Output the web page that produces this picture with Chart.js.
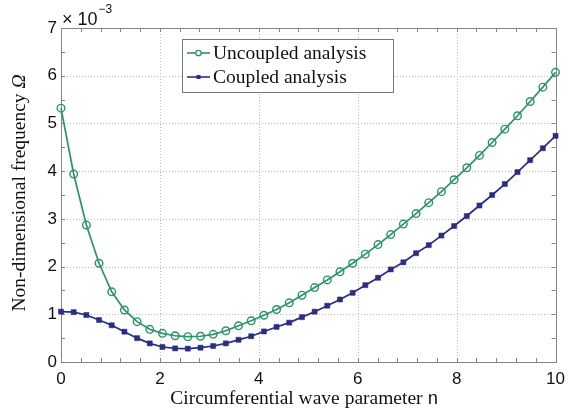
<!DOCTYPE html>
<html>
<head>
<meta charset="utf-8">
<script src="https://cdn.jsdelivr.net/npm/chart.js@4.4.0/dist/chart.umd.min.js"></script>
<style>
  html, body { margin: 0; padding: 0; background: #fff; }
  canvas { display: block; }
</style>
</head>
<body>
<canvas id="freqChart" width="572" height="413"></canvas>
<script>
// circumferential wave parameter n (40 samples over 0..10)
const waveParam = [0, 0.2564, 0.5128, 0.7692, 1.0256, 1.2821, 1.5385, 1.7949, 2.0513, 2.3077,
  2.5641, 2.8205, 3.0769, 3.3333, 3.5897, 3.8462, 4.1026, 4.3590, 4.6154, 4.8718,
  5.1282, 5.3846, 5.6410, 5.8974, 6.1538, 6.4103, 6.6667, 6.9231, 7.1795, 7.4359,
  7.6923, 7.9487, 8.2051, 8.4615, 8.7179, 8.9744, 9.2308, 9.4872, 9.7436, 10];

// non-dimensional frequency, in units of 1e-3
const uncoupled = [5.32, 3.94, 2.87, 2.07, 1.47, 1.09, 0.845, 0.685, 0.60, 0.55,
  0.53, 0.54, 0.58, 0.655, 0.76, 0.865, 0.98, 1.10, 1.24, 1.40,
  1.56, 1.72, 1.89, 2.07, 2.26, 2.46, 2.67, 2.89, 3.11, 3.34,
  3.57, 3.82, 4.07, 4.33, 4.60, 4.88, 5.16, 5.46, 5.76, 6.07];

const coupled = [1.055, 1.045, 0.985, 0.88, 0.77, 0.635, 0.50, 0.39, 0.315, 0.285,
  0.28, 0.30, 0.335, 0.39, 0.465, 0.54, 0.64, 0.735, 0.825, 0.94,
  1.055, 1.18, 1.31, 1.45, 1.61, 1.765, 1.94, 2.09, 2.28, 2.45,
  2.65, 2.85, 3.06, 3.28, 3.50, 3.73, 3.98, 4.23, 4.48, 4.74];

const seriesLabels = ['Uncoupled analysis', 'Coupled analysis'];
const xTitle = 'Circumferential wave parameter ';
const xTitleSymbol = 'n';
const yTitle = 'Non-dimensional frequency ';
const yTitleSymbol = 'Ω';
const exponentBase = '× 10';
const exponentPower = '−3';

const GREEN = '#2b9464';
const NAVY = '#2b2d80';
const FRAME = '#858585';
const SERIF = '"Liberation Serif", "Times New Roman", serif';
const SANS = '"Liberation Sans", Arial, sans-serif';

function toPoints(xs, ys) {
    return xs.map((x, i) => ({ x: x, y: ys[i] }));
}

// draw a run of text pieces with different fonts, centred on x
function drawMixed(ctx, parts, x, y) {
    let total = 0;
    parts.forEach((p) => {
        ctx.font = p.font;
        total += ctx.measureText(p.text).width;
    });
    let cx = x - total / 2;
    parts.forEach((p) => {
        ctx.font = p.font;
        ctx.fillText(p.text, cx, y);
        cx += ctx.measureText(p.text).width;
    });
}

const decorations = {
    id: 'decorations',
    beforeDatasetsDraw(chart) {
        const { ctx, chartArea: a, scales } = chart;
        ctx.save();

        // dotted grid at the major ticks
        ctx.strokeStyle = '#bdbdbd';
        ctx.lineWidth = 1;
        ctx.setLineDash([1, 2]);
        ctx.beginPath();
        scales.x.ticks.forEach((t) => {
            const px = Math.round(scales.x.getPixelForValue(t.value)) + 0.5;
            ctx.moveTo(px, a.top); ctx.lineTo(px, a.bottom);
        });
        scales.y.ticks.forEach((t) => {
            const py = Math.round(scales.y.getPixelForValue(t.value)) + 0.5;
            ctx.moveTo(a.left, py); ctx.lineTo(a.right, py);
        });
        ctx.stroke();
        ctx.setLineDash([]);

        // inward ticks on all four sides
        ctx.strokeStyle = FRAME;
        ctx.beginPath();
        for (let v = 0; v <= 10.001; v += 0.4) {
            const px = Math.round(scales.x.getPixelForValue(v)) + 0.5;
            ctx.moveTo(px, a.bottom); ctx.lineTo(px, a.bottom - 4);
            ctx.moveTo(px, a.top); ctx.lineTo(px, a.top + 4);
        }
        for (let v = 0; v <= 7.001; v += 0.5) {
            const py = Math.round(scales.y.getPixelForValue(v)) + 0.5;
            ctx.moveTo(a.left, py); ctx.lineTo(a.left + 4, py);
            ctx.moveTo(a.right, py); ctx.lineTo(a.right - 4, py);
        }
        ctx.stroke();
        ctx.strokeRect(Math.round(a.left) + 0.5, Math.round(a.top) + 0.5,
            Math.round(a.right - a.left), Math.round(a.bottom - a.top));
        ctx.restore();
    },
    afterDraw(chart) {
        const { ctx, chartArea: a } = chart;
        ctx.save();
        ctx.fillStyle = '#111';
        ctx.textBaseline = 'alphabetic';

        // x axis title
        drawMixed(ctx, [
            { text: xTitle, font: '19.5px ' + SERIF },
            { text: xTitleSymbol, font: '18px "Liberation Mono", monospace' },
        ], (a.left + a.right) / 2 - 4, 404);

        // y axis title
        ctx.save();
        ctx.translate(25, (a.top + a.bottom) / 2 - 2);
        ctx.rotate(-Math.PI / 2);
        drawMixed(ctx, [
            { text: yTitle, font: '19.5px ' + SERIF },
            { text: yTitleSymbol, font: 'italic 19.5px ' + SERIF },
        ], 0, 0);
        ctx.restore();

        // axis exponent
        ctx.font = '18px ' + SANS;
        ctx.fillText(exponentBase, a.left + 1, 25);
        const w = ctx.measureText(exponentBase).width;
        ctx.font = '12px ' + SANS;
        ctx.fillText(exponentPower, a.left + w + 2, 13);

        // legend
        const box = { x: 182, y: 39, w: 211, h: 53 };
        ctx.fillStyle = '#fff';
        ctx.fillRect(box.x, box.y, box.w, box.h);
        ctx.strokeStyle = '#777';
        ctx.lineWidth = 1;
        ctx.strokeRect(box.x + 0.5, box.y + 0.5, box.w, box.h);
        chart.data.datasets.forEach((ds, i) => {
            const cy = 53 + i * 24;
            ctx.strokeStyle = ds.borderColor;
            ctx.lineWidth = 1.6;
            ctx.beginPath();
            ctx.moveTo(187, cy); ctx.lineTo(210, cy);
            ctx.stroke();
            if (ds.pointStyle === 'circle') {
                ctx.lineWidth = 1.3;
                ctx.beginPath();
                ctx.arc(198.5, cy, 2.7, 0, Math.PI * 2);
                ctx.fillStyle = '#fff';
                ctx.fill();
                ctx.stroke();
            } else {
                ctx.fillStyle = ds.borderColor;
                ctx.fillRect(196.5, cy - 2, 4, 4);
            }
            ctx.fillStyle = '#111';
            ctx.font = '19.5px ' + SERIF;
            ctx.fillText(ds.label, 213, cy + 6);
        });
        ctx.restore();
    },
};

const tickFont = { family: SANS, size: 17 };

new Chart(document.getElementById('freqChart'), {
    type: 'scatter',
    data: {
        datasets: [
            {
                label: seriesLabels[0],
                data: toPoints(waveParam, uncoupled),
                showLine: true,
                borderColor: GREEN,
                borderWidth: 1.7,
                pointStyle: 'circle',
                pointRadius: 3.8,
                pointBorderWidth: 1.4,
                pointBackgroundColor: 'rgba(255,255,255,0)',
                pointBorderColor: GREEN,
                clip: false,
            },
            {
                label: seriesLabels[1],
                data: toPoints(waveParam, coupled),
                showLine: true,
                borderColor: NAVY,
                borderWidth: 1.7,
                pointStyle: 'rect',
                pointRadius: 3.6,
                pointBorderWidth: 0.5,
                pointBackgroundColor: NAVY,
                pointBorderColor: NAVY,
                clip: false,
            },
        ],
    },
    options: {
        responsive: false,
        animation: false,
        layout: { padding: { top: 28, right: 11, left: 0, bottom: 0 } },
        plugins: {
            legend: { display: false },
            tooltip: { enabled: false },
        },
        scales: {
            x: {
                type: 'linear',
                min: 0,
                max: 10,
                afterFit(scale) { scale.height = 51; },
                ticks: { stepSize: 2, font: tickFont, color: '#111', padding: 7, maxRotation: 0 },
                grid: { display: false, drawTicks: false },
                border: { display: false },
            },
            y: {
                min: 0,
                max: 7,
                afterFit(scale) { scale.width = 61; },
                ticks: { stepSize: 1, font: tickFont, color: '#111', padding: 4 },
                grid: { display: false, drawTicks: false },
                border: { display: false },
            },
        },
    },
    plugins: [decorations],
});
</script>
</body>
</html>
